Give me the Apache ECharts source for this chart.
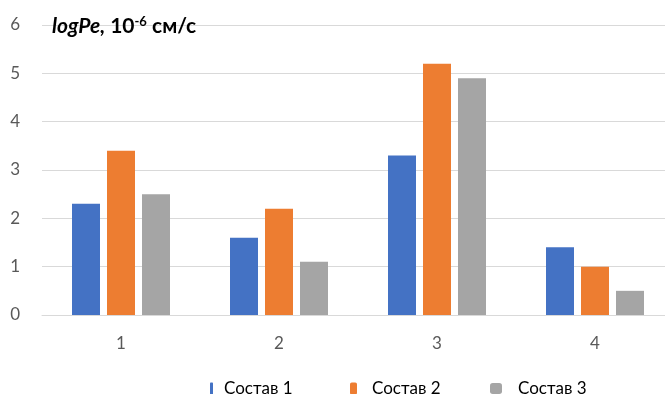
<!DOCTYPE html>
<html><head><meta charset="utf-8">
<script src="https://cdn.jsdelivr.net/npm/echarts@6/dist/echarts.min.js"></script>
<style>html,body{margin:0;padding:0;background:#fff}#c{width:665px;height:394px}</style>
</head><body><div id="c"></div>
<script>
var categories = ['1', '2', '3', '4'];
var seriesNames = ['Состав 1', 'Состав 2', 'Состав 3'];
var sostav1 = [2.3, 1.6, 3.3, 1.4];
var sostav2 = [3.4, 2.2, 5.2, 1.0];
var sostav3 = [2.5, 1.1, 4.9, 0.5];
var colors = ['#4472C4', '#ED7D31', '#A5A5A5'];
var font = 'Lato, "Open Sans", sans-serif';
var chart = echarts.init(document.getElementById('c'));
function mkSeries(name, data, color) {
  return {
    name: name, type: 'bar', data: data, barWidth: 28, barGap: '25%',
    itemStyle: { color: color }
  };
}
function mkLegend(name, left, w, h, pad) {
  return {
    data: [name], left: left, top: 375, itemWidth: w, itemHeight: h,
    textStyle: { fontFamily: font, fontSize: 17, color: '#000', padding: [0, 0, 0, pad] }
  };
}
chart.setOption({
  animation: false,
  color: colors,
  title: {
    left: 47, top: 10,
    text: '{b|logPe,} {n|10}{s|-6}{n| см/с}',
    textStyle: {
      rich: {
        b: { fontFamily: font, fontSize: 21, fontWeight: 'bold', fontStyle: 'italic', color: '#000' },
        n: { fontFamily: font, fontSize: 21, color: '#000' },
        s: { fontFamily: font, fontSize: 13, color: '#000', verticalAlign: 'top', padding: [0, 0, 9, 0] }
      }
    }
  },
  legend: [
    mkLegend(seriesNames[0], 205, 3, 12, 6),
    mkLegend(seriesNames[1], 345, 7, 12, 10),
    mkLegend(seriesNames[2], 485, 12, 11, 11)
  ],
  grid: { left: 42, width: 632, top: 25, height: 290, containLabel: false, outerBoundsMode: 'none' },
  xAxis: {
    type: 'category', data: categories,
    axisLine: { lineStyle: { color: '#D9D9D9', width: 1 } },
    axisTick: { show: false },
    axisLabel: { fontFamily: font, fontSize: 17, color: '#595959', margin: 20 }
  },
  yAxis: {
    type: 'value', min: 0, max: 6, interval: 1,
    axisLine: { show: false }, axisTick: { show: false },
    splitLine: { lineStyle: { color: '#D9D9D9', width: 1 } },
    axisLabel: { fontFamily: font, fontSize: 17, color: '#595959', margin: 22 }
  },
  series: [
    mkSeries(seriesNames[0], sostav1, colors[0]),
    mkSeries(seriesNames[1], sostav2, colors[1]),
    mkSeries(seriesNames[2], sostav3, colors[2])
  ]
});
</script></body></html>
